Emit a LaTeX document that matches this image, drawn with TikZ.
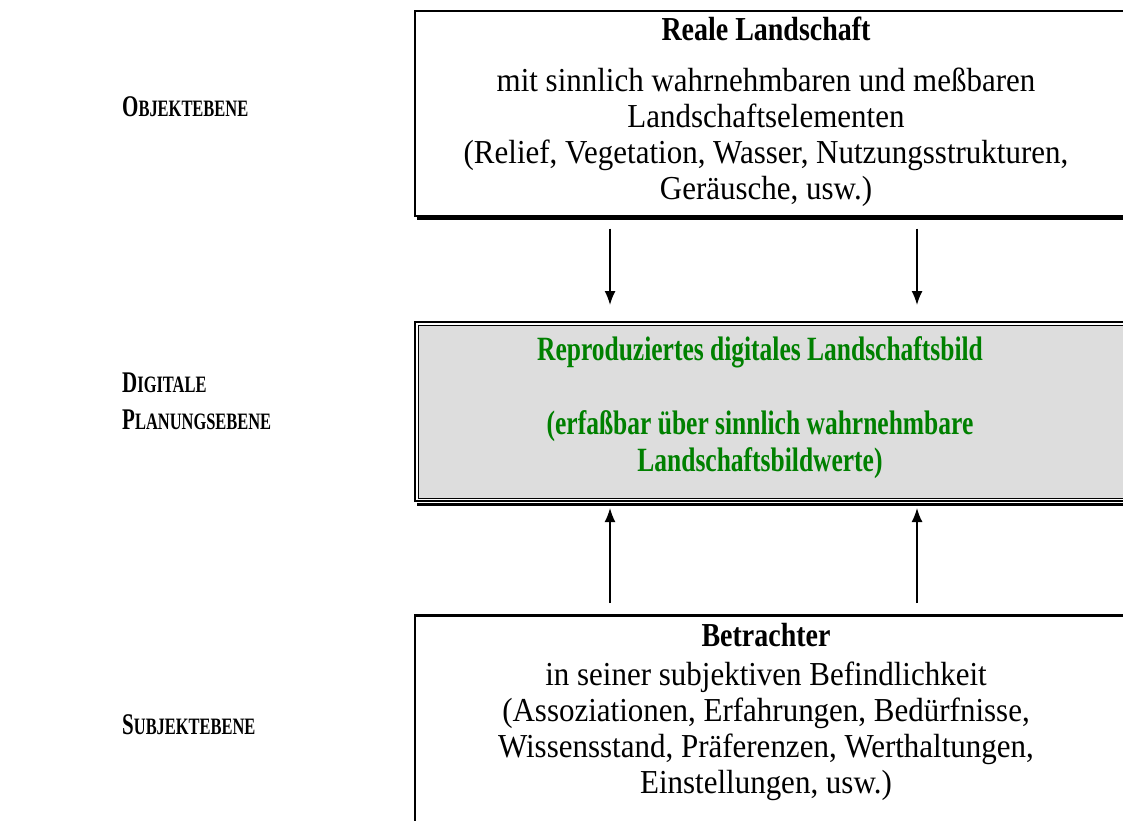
\documentclass[tikz,border=0pt]{standalone}
\usepackage{fontspec}
\setmainfont{Liberation Serif}
\usetikzlibrary{arrows.meta}
\definecolor{dgreen}{RGB}{0,128,0}
\definecolor{boxgray}{RGB}{221,221,221}
\newfontfamily\bodyfont[FakeStretch=0.925]{Liberation Serif}
\newfontfamily\headfont[FakeStretch=0.835]{Liberation Serif}
\newfontfamily\condfont[FakeStretch=0.75]{Liberation Serif}
\newfontfamily\lblfont[FakeStretch=0.7]{Liberation Serif}
\newcommand{\lbl}[2]{{\fontsize{30}{37}\selectfont #1}{\fontsize{23.5}{37}\selectfont #2}}
\newcommand{\hd}[1]{{\headfont\bfseries #1}}
\begin{document}
\begin{tikzpicture}[x=1pt,y=-1pt,
  boxtext/.style={align=center, font=\bodyfont\fontsize{33.5}{36}\selectfont, inner sep=0pt},
  lvl/.style={anchor=west, align=left, font=\lblfont\bfseries\fontsize{30}{37}\selectfont, inner sep=0pt},
  frame/.style={draw, line width=1.5pt, minimum width=740pt, anchor=north west, inner sep=0pt},
  arr/.style={line width=1.6pt, -{Latex[length=14pt,width=11pt]}}]
\useasboundingbox (0,0) rectangle (1123,820);
\clip (0,0) rectangle (1123,820);
% boxes
\node[frame, minimum height=205pt] (real) at (414,10) {};
\draw[line width=3.5pt] ([shift={(3pt,-2pt)}]real.south west) -- ([yshift=-2pt]real.south east);
\node[frame, line width=2pt, minimum height=179pt] (mid) at (414,321) {};
\draw[fill=boxgray, line width=1pt] ([shift={(4pt,-4pt)}]mid.north west) rectangle ([shift={(0pt,4pt)}]mid.south east);
\draw[line width=3pt] ([shift={(3pt,-2pt)}]mid.south west) -- ([yshift=-2pt]mid.south east);
\node[frame, minimum height=230pt] (obs) at (414,615) {};
\draw[line width=3pt] (obs.north west) -- (obs.north east);
% arrows
\coordinate (cl) at (610,0);
\coordinate (cr) at (917,0);
\draw[arr] ([yshift=-12pt]real.south -| cl) -- ([yshift=16pt]mid.north -| cl);
\draw[arr] ([yshift=-12pt]real.south -| cr) -- ([yshift=16pt]mid.north -| cr);
\draw[arr] ([yshift=12pt]obs.north -| cl) -- ([yshift=-6pt]mid.south -| cl);
\draw[arr] ([yshift=12pt]obs.north -| cr) -- ([yshift=-6pt]mid.south -| cr);
% texts
\node[boxtext] (realtxt) at (766,112) {\hd{Reale Landschaft}\\[15pt] mit sinnlich wahrnehmbaren und meßbaren\\ Landschaftselementen\\ (Relief, Vegetation, Wasser, Nutzungsstrukturen,\\ Geräusche, usw.)};
\node[boxtext, text=dgreen, font=\condfont\bfseries\fontsize{34}{37}\selectfont] (midtxt) at (760,408) {Reproduziertes digitales Landschaftsbild\\[37pt] (erfaßbar über sinnlich wahrnehmbare\\ Landschaftsbildwerte)};
\node[boxtext] (obstxt) at (766,712) {\hd{Betrachter}\\[3pt] in seiner subjektiven Befindlichkeit\\ (Assoziationen, Erfahrungen, Bedürfnisse,\\ Wissensstand, Präferenzen, Werthaltungen,\\ Einstellungen, usw.)};
% level labels
\node[lvl] (l1) at (122,107) {\lbl{O}{BJEKTEBENE}};
\node[lvl] (l2) at (122,401) {\lbl{D}{IGITALE}\\\lbl{P}{LANUNGSEBENE}};
\node[lvl] (l3) at (122,725) {\lbl{S}{UBJEKTEBENE}};
\end{tikzpicture}
\end{document}
